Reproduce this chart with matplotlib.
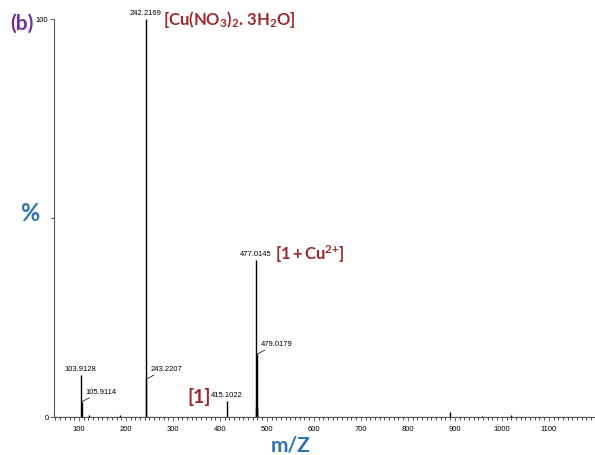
import numpy as np
import matplotlib.pyplot as plt

# pics du spectre (m/z, intensité relative %)
mz = [103.9128, 105.9114, 121.0, 187.0, 242.2169, 243.2207, 415.1022,
      476.0, 477.0145, 478.0, 479.0179, 480.0, 889.0, 958.0, 1020.0]
intensite = [10.5, 3.8, 0.5, 0.6, 100.0, 9.5, 4.0,
             2.5, 39.5, 2.5, 15.8, 1.5, 1.3, 0.3, 0.4]

# pics étiquetés au-dessus (centrés)
lab_centre = [103.9128, 242.2169, 415.1022, 477.0145]
# pics étiquetés à droite avec un trait oblique
lab_cote = [105.9114, 243.2207, 479.0179]

xticks = [100, 200, 300, 400, 500, 600, 700, 800, 900, 1000, 1100]

rouge = "#9b2a2a"
bleu = "#2e75b6"
violet = "#7030a0"

plt.rcParams['font.family'] = ['Liberation Sans', 'DejaVu Sans']
plt.rcParams['mathtext.fontset'] = 'custom'
plt.rcParams['mathtext.rm'] = 'Lato:bold'
plt.rcParams['mathtext.it'] = 'Lato:bold'
plt.rcParams['mathtext.bf'] = 'Lato:bold'

fig = plt.figure(figsize=(5.95, 4.56), dpi=100)
ax = fig.add_axes([54/595, 38/456, 540/595, 398/456])

ax.vlines(mz, 0, intensite, color="black", lw=1.0)
ax.axhline(0, color="black", lw=0.8)

ax.set_xlim(47, 1196)
ax.set_ylim(0, 100)
ax.spines['top'].set_visible(False)
ax.spines['right'].set_visible(False)
ax.spines['left'].set_color("#555555")
ax.spines['bottom'].set_color("#555555")
ax.set_xticks(xticks)
ax.set_xticks(np.arange(50, 1200, 10), minor=True)
ax.set_yticks([0, 100])
ax.set_yticks([50], minor=True)
ax.tick_params(axis='both', labelsize=5.5, length=3, width=0.6, color="#555555")
ax.tick_params(axis='x', pad=2.5)
ax.tick_params(axis='x', which='minor', length=2, width=0.5)
ax.tick_params(axis='y', which='minor', length=2, width=0.5)
ax.tick_params(axis='y', pad=1)

for m in lab_centre:
    h = intensite[mz.index(m)]
    ax.annotate(f"{m:.4f}", (m, h), xytext=(0, 2), textcoords="offset points",
                ha="center", va="bottom", fontsize=5.5, annotation_clip=False)

for m in lab_cote:
    h = intensite[mz.index(m)]
    ax.annotate(f"{m:.4f}", (m, h), xytext=(3, 5), textcoords="offset points",
                ha="left", va="bottom", fontsize=5.5,
                arrowprops=dict(arrowstyle="-", lw=0.5, color="black",
                                shrinkA=0, shrinkB=0))

kw = dict(color=rouge, fontfamily=['Lato', 'DejaVu Sans'],
          fontweight="bold", va="center", ha="left")
fig.text(163/595, 1 - 19/456, r"[Cu(NO$_3$)$_2$. 3H$_2$O]", fontsize=12, **kw)
fig.text(275/595, 1 - 254/456, r"[1$\,$+$\,$Cu$^{2{+}}$]", fontsize=12, **kw)
fig.text(187/595, 1 - 397/456, "[1]", fontsize=14, **kw)

fig.text(10/595, 1 - 24/456, "(b)", color=violet, fontsize=15,
         fontfamily=['Lato', 'DejaVu Sans'], fontweight="bold", va="center")
fig.text(30/595, 1 - 214/456, "%", color=bleu, fontsize=17,
         fontfamily=['Lato', 'DejaVu Sans'], fontweight="bold",
         ha="center", va="center")
fig.text(291/595, 1 - 446/456, "m/Z", color=bleu, fontsize=15,
         fontfamily=['Lato', 'DejaVu Sans'], fontweight="bold",
         ha="center", va="center")

fig.savefig("out.png", dpi=100)
